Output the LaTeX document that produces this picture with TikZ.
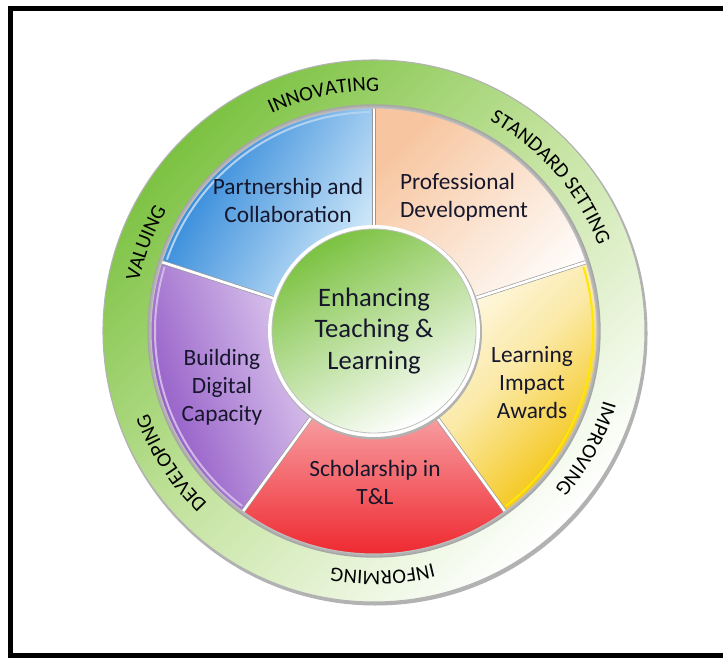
\documentclass[tikz,border=0pt]{standalone}
\usepackage{fontspec}
\setmainfont{Carlito}
\usetikzlibrary{calc,decorations.text}

\definecolor{ringgreen}{HTML}{7CC242}
\definecolor{ringmid}{HTML}{C6E4A2}
\definecolor{pdpeach}{HTML}{F7C6A0}
\definecolor{pcblue}{HTML}{1F7ED6}
\definecolor{pcpale}{HTML}{DDF0FC}
\definecolor{bdpurple}{HTML}{8A4EC2}
\definecolor{bdpale}{HTML}{F7EFFC}
\definecolor{slred}{HTML}{EE1D25}
\definecolor{slpale}{HTML}{FCE6E6}
\definecolor{ligold}{HTML}{F3C000}
\definecolor{labelink}{HTML}{16162C}

\newcommand\ringfont{\fontsize{15.5}{18}\selectfont}

\tikzset{
  segtext/.style={text=labelink, align=center, inner sep=0pt, font=\fontsize{17.5}{21}\selectfont},
  centertext/.style={text=labelink, align=center, inner sep=0pt, font=\fontsize{20}{23.5}\selectfont},
  ringtext/.style={decorate, decoration={text along path, text align=center, text={|\ringfont|#1}}},
  divider/.style={white, line width=2pt},
  rim/.style={line width=1.5pt},
}

\begin{document}
\begin{tikzpicture}[x=0.75pt,y=0.75pt]
	\useasboundingbox (0,0) rectangle (723,657);
	\fill[white] (0,0) rectangle (723,657);
	\draw[line width=3.75pt] (10.5,2) rectangle (760,648.5);
	\coordinate (O) at (374,326);

	% outer ring
	\fill[black!30] ($(O)+(1.5,-2.5)$) circle[radius=272];
	\shade[even odd rule, top color=ringgreen, bottom color=white, middle color=ringmid, shading angle=45]
		(O) circle[radius=271] (O) circle[radius=226];
	\draw[black!30, line width=0.8pt] (O) circle[radius=271];
	\draw[black!35, line width=1pt] (O) circle[radius=226];

	% the five segments
	\shade[left color=pcblue, right color=pcpale, shading angle=60]
		(O) -- ++(90:223) arc[start angle=90, end angle=162, radius=223] -- cycle;
	\shade[top color=pdpeach, bottom color=white, shading angle=45]
		(O) -- ++(18:223) arc[start angle=18, end angle=90, radius=223] -- cycle;
	\shade[left color=white, right color=ligold, middle color=ligold!35, shading angle=45]
		(O) -- ++(-54:223) arc[start angle=-54, end angle=18, radius=223] -- cycle;
	\shade[top color=slpale, bottom color=slred]
		(O) -- ++(234:223) arc[start angle=234, end angle=306, radius=223] -- cycle;
	\shade[left color=bdpurple, right color=bdpale, shading angle=110]
		(O) -- ++(162:223) arc[start angle=162, end angle=234, radius=223] -- cycle;

	% light rims inside the outer arc
	\draw[rim, pcblue!35!white] ($(O)+(91:219)$) arc[start angle=91, end angle=161, radius=219];
	\draw[rim, yellow!90!orange] ($(O)+(-53:219)$) arc[start angle=-53, end angle=17, radius=219];
	\draw[rim, bdpurple!40!white] ($(O)+(163:219)$) arc[start angle=163, end angle=233, radius=219];

	\foreach \a in {18,90,162,234,306}{
		\draw[black!40, line width=3pt] (O) -- ++(\a:223);
		\draw[divider] (O) -- ++(\a:223);
	}
	\draw[black!25, line width=0.8pt] (O) circle[radius=223];

	% hub
	\fill[black!30] ($(O)+(1,-1.5)$) circle[radius=107];
	\fill[white] (O) circle[radius=106];
	\shade[top color=ringgreen, bottom color=white, shading angle=30] (O) circle[radius=102];
	\draw[black!25, line width=0.6pt] (O) circle[radius=102];

	\node[centertext] (etl) at (O) {Enhancing\\Teaching \&\\Learning};
	\node[segtext] (pc) at (288,457) {Partnership and\\Collaboration};
	\node[segtext, align=left] (pd) at (464,460) {Professional\\Development};
	\node[segtext] (lia) at (532,274) {Learning\\Impact\\Awards};
	\node[segtext] (sc) at (375,175) {Scholarship in\\T\&L};
	\node[segtext] (bdc) at (222,270) {Building\\Digital\\Capacity};

	% ring words, clockwise
	\path[ringtext=INNOVATING] ($(O)+(147:240)$) arc[start angle=147, end angle=57, radius=240];
	\path[ringtext=STANDARD SETTING] ($(O)+(86:240)$) arc[start angle=86, end angle=-4, radius=240];
	\path[ringtext=IMPROVING] ($(O)+(16:240)$) arc[start angle=16, end angle=-74, radius=240];
	\path[ringtext=INFORMING] ($(O)+(-43:240)$) arc[start angle=-43, end angle=-133, radius=240];
	\path[ringtext=DEVELOPING] ($(O)+(258:240)$) arc[start angle=258, end angle=168, radius=240];
	\path[ringtext=VALUING] ($(O)+(204:240)$) arc[start angle=204, end angle=114, radius=240];
\end{tikzpicture}
\end{document}
